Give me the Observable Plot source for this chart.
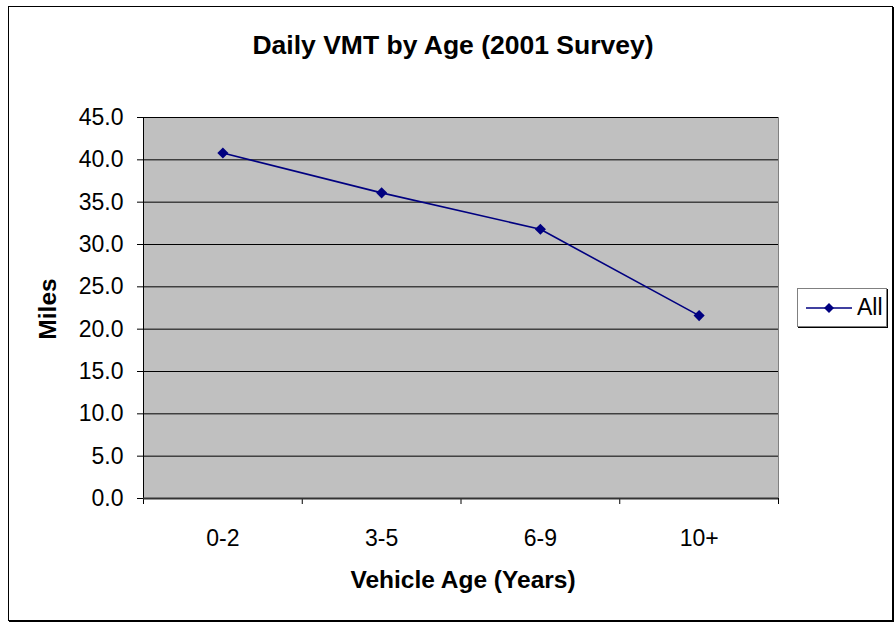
<!DOCTYPE html>
<html>
<head>
<meta charset="utf-8">
<script src="https://cdn.jsdelivr.net/npm/d3@7"></script>
<script src="https://cdn.jsdelivr.net/npm/@observablehq/plot@0.6"></script>
<style>
  html, body { margin: 0; padding: 0; background: #fff; }
  #wrap { position: relative; width: 895px; height: 623px; font-family: Arial, "Liberation Sans", sans-serif; color: #000; }
  #wrap svg.plot { position: absolute; left: 0; top: 0; }
  .border { position: absolute; left: 8px; top: 6px; width: 883px; height: 613px; border: 1px solid #000; box-shadow: 1px 1px 0 #000; pointer-events: none; }
  .title { position: absolute; left: 453px; top: 32px; transform: translateX(-50%); font-size: 26.5px; font-weight: bold; line-height: 27px; white-space: nowrap; }
  .xlabel { position: absolute; left: 463px; top: 568px; transform: translateX(-50%); font-size: 24.5px; font-weight: bold; line-height: 24px; white-space: nowrap; }
  .ylabel { position: absolute; left: 48px; top: 309px; transform: translate(-50%, -50%) rotate(-90deg); font-size: 24.5px; font-weight: bold; line-height: 24px; white-space: nowrap; }
  .legend { position: absolute; left: 797px; top: 288px; width: 88px; height: 37px; border: 1px solid #808080; box-shadow: 1px 1px 0 #000; background: #fff; }
  .legend svg { position: absolute; left: 0; top: 0; }
  .legend span { position: absolute; left: 59px; top: 7px; font-size: 23px; line-height: 23px; }
</style>
</head>
<body>
<div id="wrap">
  <div class="title">Daily VMT by Age (2001 Survey)</div>
  <div class="ylabel">Miles</div>
  <div class="xlabel">Vehicle Age (Years)</div>
  <div class="legend">
    <svg width="60" height="37"><line x1="8" x2="54" y1="19" y2="19" stroke="#000080" stroke-width="1.5"/><path d="M31,14 L36,19 L31,24 L26,19 Z" fill="#000080"/></svg>
    <span>All</span>
  </div>
  <div class="border"></div>
</div>
<script>
const categories = ["0-2", "3-5", "6-9", "10+"];
const miles = [40.8, 36.1, 31.8, 21.6];
const seriesName = "All";
const yTicks = [0, 5, 10, 15, 20, 25, 30, 35, 40, 45];

const data = categories.map((c, i) => ({ i, cat: c, miles: miles[i] }));
const idx = categories.map((_, i) => i);
const bounds = d3.range(-0.5, categories.length, 1);

const chart = Plot.plot({
  width: 895,
  height: 623,
  marginLeft: 143,
  marginRight: 117,
  marginTop: 117,
  marginBottom: 125,
  style: { fontFamily: 'Arial, "Liberation Sans", sans-serif', fontSize: "23px", color: "#000", background: "transparent" },
  x: { type: "linear", domain: [-0.5, categories.length - 0.5], axis: null },
  y: { domain: [0, 45], axis: null },
  marks: [
    Plot.frame({ fill: "#c0c0c0", stroke: "#808080" }),
    Plot.gridY(yTicks, { stroke: "#000", strokeOpacity: 1, strokeWidth: 1 }),
    Plot.axisY(yTicks, { tickFormat: d3.format(".1f"), tickSize: 6, tickPadding: 14, stroke: "#000", fontSize: 23, label: null }),
    Plot.axisX(bounds, { tickFormat: () => "", tickSize: 6, stroke: "#000", label: null }),
    Plot.axisX(idx, { tickFormat: (i) => categories[i], tickSize: 0, tickPadding: 31, fontSize: 23, label: null }),
    Plot.ruleX([-0.5], { stroke: "#000", strokeWidth: 1 }),
    Plot.ruleY([0], { stroke: "#333", strokeWidth: 2 }),
    Plot.line(data, { x: "i", y: "miles", stroke: "#000080", strokeWidth: 1.6 }),
    Plot.dot(data, { x: "i", y: "miles", symbol: "diamond2", r: 5, fill: "#000080", stroke: "none" })
  ]
});
chart.classList.add("plot");
document.getElementById("wrap").prepend(chart);
</script>
</body>
</html>
